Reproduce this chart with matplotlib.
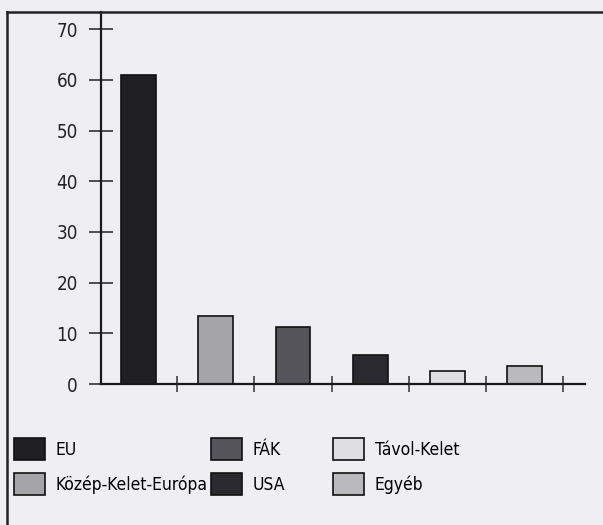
import matplotlib

matplotlib.use("Agg")
import matplotlib.pyplot as plt
from matplotlib.lines import Line2D
import numpy as np

plt.rcParams.update({"font.family": "DejaVu Sans", "font.stretch": "condensed"})

# régiók és arányok (%)
regions = ["EU", "Közép-Kelet-Európa", "FÁK", "USA", "Távol-Kelet", "Egyéb"]
values = [61, 13.5, 11.3, 5.7, 2.6, 3.6]
colors = ["#1f1f24", "#a4a4a9", "#55555b", "#29292f", "#dedee3", "#b9b9be"]
yticks = [0, 10, 20, 30, 40, 50, 60, 70]

bg = "#eeeef3"
fig = plt.figure(figsize=(6.03, 5.25), dpi=100, facecolor=bg)
ax = fig.add_axes([101 / 603, 1 - 384 / 525, 484 / 603, 372 / 525])
ax.set_facecolor(bg)

x = np.arange(len(regions))
bars = ax.bar(x, values, 0.45, color=colors, edgecolor="#111111", linewidth=1.2)

ax.set_xlim(-0.485, 5.78)
ax.set_ylim(0, 73.4)
ax.set_yticks(yticks)
ax.set_xticks(list(x + 0.5))
ax.set_xticklabels([])
ax.tick_params(axis="y", direction="inout", length=17, width=1.1, pad=8,
               labelsize=13.5, colors="#222222")
ax.tick_params(axis="x", direction="inout", length=11, width=1.1, colors="#333333")
for s in ["top", "right"]:
    ax.spines[s].set_visible(False)
for s in ["left", "bottom"]:
    ax.spines[s].set_linewidth(1.6)
    ax.spines[s].set_color("#1a1a1a")

# keret a diagram körül
fig.add_artist(Line2D([7 / 603, 1], [1 - 12 / 525] * 2, transform=fig.transFigure,
                      color="#222222", lw=1.8))
fig.add_artist(Line2D([7 / 603] * 2, [0, 1 - 12 / 525], transform=fig.transFigure,
                      color="#222222", lw=1.8))

# jelmagyarázat három oszlopban
for col, left in enumerate([14, 211, 333]):
    idx = [2 * col, 2 * col + 1]
    fig.legend(handles=[bars[i] for i in idx], labels=[regions[i] for i in idx],
               loc="upper left", bbox_to_anchor=(left / 603, 1 - 438 / 525),
               frameon=False, fontsize=12.5, handlelength=1.8, handleheight=1.6,
               handletextpad=0.6, labelspacing=0.72, borderpad=0, borderaxespad=0)

fig.savefig("out.png", dpi=100, facecolor=bg)
